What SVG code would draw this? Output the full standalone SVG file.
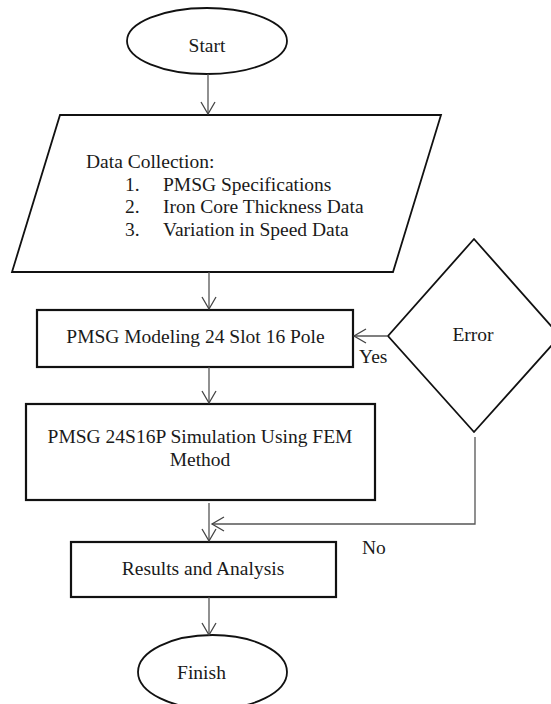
<svg xmlns="http://www.w3.org/2000/svg" width="551" height="704" viewBox="0 0 551 704">
<style>
  .shape { fill: #fff; stroke: #111; stroke-width: 1.8; }
  .box { fill: #fff; stroke: #111; stroke-width: 2.2; }
  .txt { font-family: "Liberation Serif", "Times New Roman", serif; font-size: 19.5px; fill: #1a1a1a; }
  .mid { text-anchor: middle; }
  .conn { fill: none; stroke: #555; stroke-width: 1.3; }
</style>
<defs>
  <marker id="arrow" markerUnits="userSpaceOnUse" viewBox="-1 -1 15 17" markerWidth="15" markerHeight="17" refX="12" refY="7" orient="auto">
    <path d="M0,0 L12,7 L0,14" fill="none" stroke="#444" stroke-width="1.3"/>
  </marker>
</defs>
<rect width="551" height="704" fill="#fff"/>

<g id="start">
  <ellipse class="shape" cx="207" cy="41" rx="80" ry="33"/>
  <text class="txt mid" x="207" y="52">Start</text>
</g>

<g id="data-collection">
  <polygon class="shape" points="60,115 441,115 393,272 12,272"/>
  <text class="txt" x="86" y="168">Data Collection:</text>
  <text class="txt" x="125" y="191">1.</text>
  <text class="txt" x="163" y="191">PMSG Specifications</text>
  <text class="txt" x="125" y="213">2.</text>
  <text class="txt" x="163" y="213">Iron Core Thickness Data</text>
  <text class="txt" x="125" y="236">3.</text>
  <text class="txt" x="163" y="236">Variation in Speed Data</text>
</g>

<g id="modeling">
  <rect class="box" x="37" y="310" width="316" height="57"/>
  <text class="txt mid" x="195.5" y="343">PMSG Modeling 24 Slot 16 Pole</text>
</g>

<g id="simulation">
  <rect class="box" x="26" y="404" width="349" height="96"/>
  <text class="txt mid" x="200" y="443">PMSG 24S16P Simulation Using FEM</text>
  <text class="txt mid" x="200" y="466">Method</text>
</g>

<g id="error">
  <polygon class="shape" points="474,239 560,336 474,432 388,336"/>
  <text class="txt mid" x="473" y="341">Error</text>
</g>

<g id="results">
  <rect class="box" x="71" y="542" width="265" height="55"/>
  <text class="txt mid" x="203" y="575">Results and Analysis</text>
</g>

<g id="finish">
  <ellipse class="shape" cx="212.5" cy="672" rx="74.5" ry="37"/>
  <text class="txt mid" x="201.5" y="679">Finish</text>
</g>

<g id="connectors">
  <path class="conn" d="M208,74 L208,114" marker-end="url(#arrow)"/>
  <path class="conn" d="M209,272 L209,309" marker-end="url(#arrow)"/>
  <path class="conn" d="M209,367 L209,403" marker-end="url(#arrow)"/>
  <path class="conn" d="M209,503 L209,541" marker-end="url(#arrow)"/>
  <path class="conn" d="M209,597 L209,635" marker-end="url(#arrow)"/>
  <path class="conn" d="M388,336 L354,336" marker-end="url(#arrow)"/>
  <path class="conn" d="M475,437 L475,524 L212,524" marker-end="url(#arrow)"/>
  <text class="txt" x="359" y="363">Yes</text>
  <text class="txt" x="362" y="554">No</text>
</g>
</svg>
